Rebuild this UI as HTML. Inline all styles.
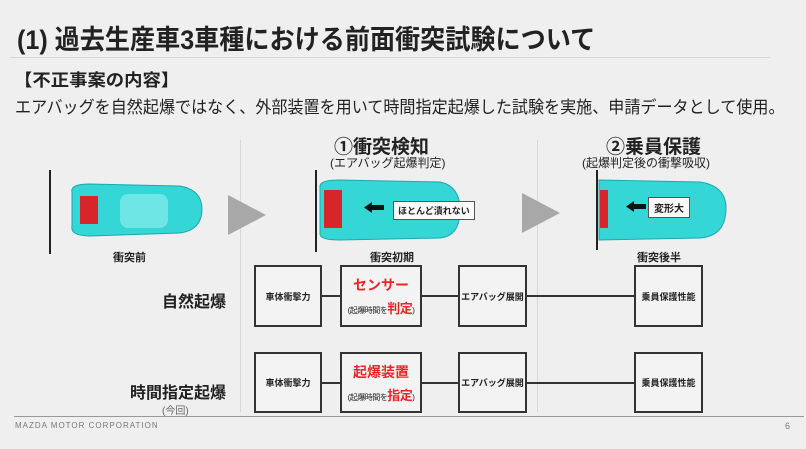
<!DOCTYPE html>
<html><head><meta charset="utf-8"><style>
body{margin:0;width:806px;height:449px;background:#efefef;position:relative;overflow:hidden;font-family:"Liberation Sans","Noto Sans CJK JP",sans-serif;color:#222}
.a{position:absolute;white-space:nowrap}
.b{position:absolute;border:2px solid #333;background:#f3f3f3;box-sizing:border-box;font-size:9px;font-weight:bold;display:flex;align-items:center;justify-content:center;flex-direction:column;text-align:center;white-space:nowrap}
.red{color:#e8262a;font-weight:bold}
.h{position:absolute;height:2px;background:#333}
.s{font-weight:normal;font-size:8px;margin-top:3px;letter-spacing:-0.5px}
</style></head><body>
<div class="a" style="left:17px;top:18px;font-size:27px;font-weight:bold;transform:scaleX(0.93);transform-origin:left top">(1) 過去生産車3車種における前面衝突試験について</div>
<div style="position:absolute;left:10px;top:57px;width:760px;height:1px;background:#d6d6d6"></div>
<div class="a" style="left:14px;top:66px;font-size:17px;font-weight:bold;transform:scaleX(1.08);transform-origin:left top">【不正事案の内容】</div>
<div class="a" style="left:15px;top:93px;font-size:17px;transform:scaleX(0.945);transform-origin:left top">エアバッグを自然起爆ではなく、外部装置を用いて時間指定起爆した試験を実施、申請データとして使用。</div>

<div style="position:absolute;left:240px;top:140px;width:1px;height:272px;background:#d8d8d8"></div>
<div style="position:absolute;left:537px;top:140px;width:1px;height:272px;background:#d8d8d8"></div>

<div class="a" style="left:334px;top:132px;font-size:19px;font-weight:bold">①衝突検知</div>
<div class="a" style="left:330px;top:154px;font-size:12px">(エアバッグ起爆判定)</div>
<div class="a" style="left:606px;top:132px;font-size:19px;font-weight:bold">②乗員保護</div>
<div class="a" style="left:582px;top:154px;font-size:12px">(起爆判定後の衝撃吸収)</div>

<svg width="806" height="449" style="position:absolute;left:0;top:0">
<line x1="50" y1="170" x2="50" y2="254" stroke="#222" stroke-width="2"/>
<path d="M72 192 Q70 184 90 184 L180 186 Q202 190 202 209 Q202 230 180 233 L90 236 Q70 236 72 226 Z" fill="#35d6d6" stroke="#1aa8b0"/>
<rect x="80" y="196" width="18" height="28" fill="#d8252a"/>
<rect x="120" y="194" width="48" height="34" rx="8" fill="#6ee6e6"/>
<polygon points="228,195 266,215 228,235" fill="#a8a8a8"/>
<line x1="316" y1="170" x2="316" y2="252" stroke="#222" stroke-width="2"/>
<path d="M320 186 Q320 180 340 180 L440 182 Q460 186 460 210 Q460 236 440 238 L340 240 Q320 240 320 234 Z" fill="#35d6d6" stroke="#1aa8b0"/>
<rect x="324" y="190" width="18" height="38" fill="#d8252a"/>
<rect x="370" y="205" width="14" height="5" fill="#111"/><polygon points="364,207.5 372,202 372,213" fill="#111"/>
<polygon points="522,193 560,213 522,233" fill="#a8a8a8"/>
<line x1="597" y1="170" x2="597" y2="250" stroke="#222" stroke-width="2"/>
<path d="M599 180 L700 182 Q726 186 726 208 Q726 236 700 238 L599 240 Z" fill="#35d6d6" stroke="#1aa8b0"/>
<rect x="600" y="190" width="8" height="38" fill="#d8252a"/>
<rect x="632" y="204" width="14" height="5" fill="#111"/><polygon points="626,206.5 634,201 634,212" fill="#111"/>
</svg>
<div class="a" style="left:393px;top:201px;border:1px solid #555;background:#fafafa;font-size:9px;font-weight:bold;padding:2px 4px">ほとんど潰れない</div>
<div class="a" style="left:648px;top:197px;border:1px solid #555;background:#fafafa;font-size:10px;font-weight:bold;padding:2px 5px">変形大</div>

<div class="a" style="left:113px;top:249px;font-size:11px;font-weight:bold">衝突前</div>
<div class="a" style="left:370px;top:249px;font-size:11px;font-weight:bold">衝突初期</div>
<div class="a" style="left:637px;top:249px;font-size:11px;font-weight:bold">衝突後半</div>

<div class="a" style="left:162px;top:288px;font-size:16px;font-weight:bold">自然起爆</div>
<div class="a" style="left:130px;top:379px;font-size:16px;font-weight:bold">時間指定起爆</div>
<div class="a" style="left:162px;top:402px;font-size:10px;color:#666">(今回)</div>

<div class="h" style="left:322px;top:295px;width:18px"></div>
<div class="h" style="left:422px;top:295px;width:36px"></div>
<div class="h" style="left:527px;top:295px;width:107px"></div>
<div class="h" style="left:322px;top:382px;width:18px"></div>
<div class="h" style="left:422px;top:382px;width:36px"></div>
<div class="h" style="left:527px;top:382px;width:107px"></div>

<div class="b" style="left:254px;top:265px;width:68px;height:62px">車体衝撃力</div>
<div class="b" style="left:340px;top:265px;width:82px;height:62px"><span class="red" style="font-size:14px">センサー</span><span class="s">(起爆時間を<span class="red" style="font-size:13px">判定</span>)</span></div>
<div class="b" style="left:458px;top:265px;width:69px;height:62px">エアバッグ展開</div>
<div class="b" style="left:634px;top:265px;width:69px;height:62px">乗員保護性能</div>

<div class="b" style="left:254px;top:352px;width:68px;height:61px">車体衝撃力</div>
<div class="b" style="left:340px;top:352px;width:82px;height:61px"><span class="red" style="font-size:14px">起爆装置</span><span class="s">(起爆時間を<span class="red" style="font-size:13px">指定</span>)</span></div>
<div class="b" style="left:458px;top:352px;width:69px;height:61px">エアバッグ展開</div>
<div class="b" style="left:634px;top:352px;width:69px;height:61px">乗員保護性能</div>

<div style="position:absolute;left:14px;top:416px;width:790px;height:1px;background:#999"></div>
<div class="a" style="left:15px;top:421px;font-size:8px;letter-spacing:1px;color:#777">MAZDA MOTOR CORPORATION</div>
<div class="a" style="left:785px;top:421px;font-size:9px;color:#777">6</div>
</body></html>
